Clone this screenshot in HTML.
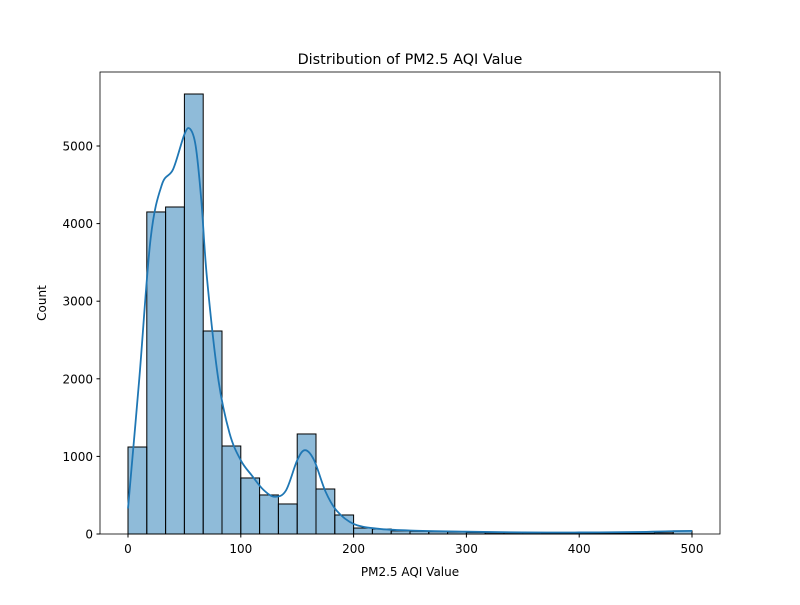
<!DOCTYPE html>
<html><head><meta charset="utf-8"><style>
body{margin:0;background:#fff;}
svg text{font-family:"DejaVu Sans","Liberation Sans",sans-serif;}
</style></head><body>
<svg id="chart" width="800" height="600" viewBox="0 0 800 600">
<rect x="0" y="0" width="800" height="600" fill="#fff"/>
<g id="bars"></g>
<path id="kde" fill="none" stroke="#1f77b4" stroke-width="1.8"/>
<rect x="100" y="72" width="620" height="462" fill="none" stroke="#000" stroke-width="0.8"/>
<g id="ticks"></g>
<text x="410" y="64" text-anchor="middle" font-size="14.4">Distribution of PM2.5 AQI Value</text>
<text x="410" y="576" text-anchor="middle" font-size="12">PM2.5 AQI Value</text>
<text x="46" y="303" text-anchor="middle" font-size="12" transform="rotate(-90 46 303)">Count</text>
</svg>
<script>
const binCounts=[1121,4150,4214,5670,2616,1134,722,503,387,1289,580,245,77,64,40,35,30,25,20,15,15,15,10,10,10,10,10,10,15,40];
const kdeX=[0,10,20,30,40,50,55,60,65,70,80,90,100,110,120,130,140,150,157,165,175,185,200,220,250,300,350,400,450,480,500];
const kdeY=[330,2000,3800,4500,4700,5150,5220,5000,4300,3300,2000,1300,950,750,570,480,560,950,1080,950,550,300,130,70,45,30,20,20,25,35,40];
const xTicks=[0,100,200,300,400,500];
const yTicks=[0,1000,2000,3000,4000,5000];
const NS="http://www.w3.org/2000/svg";
const xs=v=>128+v*564/500;
const ys=v=>534-v*388/5000;
const bw=500/binCounts.length;
const bars=document.getElementById('bars');
binCounts.forEach((c,i)=>{
  const r=document.createElementNS(NS,'rect');
  r.setAttribute('x',xs(i*bw));r.setAttribute('width',xs((i+1)*bw)-xs(i*bw));
  r.setAttribute('y',ys(c));r.setAttribute('height',534-ys(c));
  r.setAttribute('fill','rgba(31,119,180,0.5)');r.setAttribute('stroke','#000');r.setAttribute('stroke-width','1');
  
  
  bars.appendChild(r);
});
// Catmull-Rom smoothing
const P=kdeX.map((x,i)=>[xs(x),ys(kdeY[i])]);
let d='M'+P[0][0]+','+P[0][1];
for(let i=0;i<P.length-1;i++){
  const p0=P[Math.max(0,i-1)],p1=P[i],p2=P[i+1],p3=P[Math.min(P.length-1,i+2)];
  const c1=[p1[0]+(p2[0]-p0[0])/6,p1[1]+(p2[1]-p0[1])/6];
  const c2=[p2[0]-(p3[0]-p1[0])/6,p2[1]-(p3[1]-p1[1])/6];
  d+=`C${c1[0]},${c1[1]} ${c2[0]},${c2[1]} ${p2[0]},${p2[1]}`;
}
document.getElementById('kde').setAttribute('d',d);
const t=document.getElementById('ticks');
xTicks.forEach(v=>{
  const l=document.createElementNS(NS,'line');
  l.setAttribute('x1',xs(v));l.setAttribute('x2',xs(v));l.setAttribute('y1',534);l.setAttribute('y2',537.5);l.setAttribute('stroke','#000');
  
  
  t.appendChild(l);
  const s=document.createElementNS(NS,'text');
  s.setAttribute('x',xs(v));s.setAttribute('y',553);s.setAttribute('text-anchor','middle');s.setAttribute('font-size','12');s.textContent=v;
  
  
  t.appendChild(s);
});
yTicks.forEach(v=>{
  const l=document.createElementNS(NS,'line');
  l.setAttribute('x1',96.5);l.setAttribute('x2',100);l.setAttribute('y1',ys(v));l.setAttribute('y2',ys(v));l.setAttribute('stroke','#000');
  
  
  t.appendChild(l);
  const s=document.createElementNS(NS,'text');
  s.setAttribute('x',93);s.setAttribute('y',ys(v)+4.5);s.setAttribute('text-anchor','end');s.setAttribute('font-size','12');s.textContent=v;
  
  
  t.appendChild(s);
});
</script>
</body></html>
